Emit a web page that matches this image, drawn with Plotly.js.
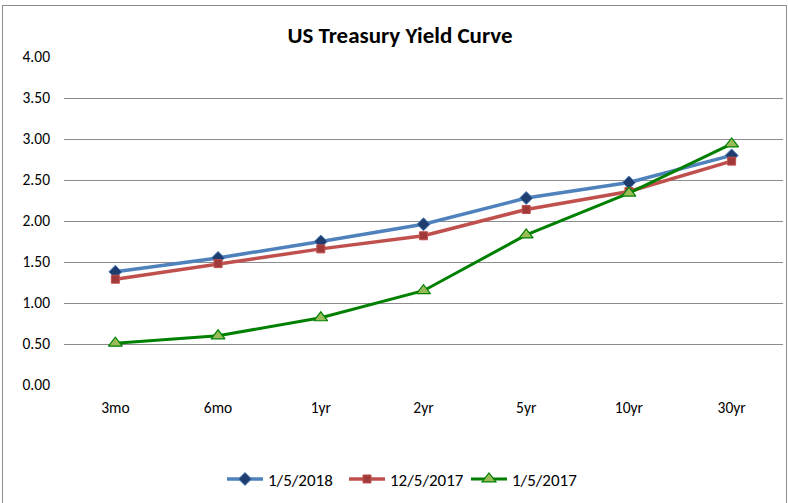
<!DOCTYPE html>
<html>
<head>
<meta charset="utf-8">
<script src="https://cdn.plot.ly/plotly-3.0.1.min.js"></script>
<style>
html,body{margin:0;padding:0;background:#fff;}
#wrap{position:relative;width:788px;height:503px;}
#chart{width:788px;height:503px;}
#border{position:absolute;left:2px;top:5px;width:783px;height:505px;border:1px solid #8c8c8c;pointer-events:none;}
</style>
</head>
<body>
<div id="wrap"><div id="chart"></div><div id="border"></div></div>
<script>
const categories = ["3mo","6mo","1yr","2yr","5yr","10yr","30yr"];
const seriesNames = ["1/5/2018","12/5/2017","1/5/2017"];
const yield_2018_01_05 = [1.38,1.55,1.75,1.96,2.28,2.47,2.80];
const yield_2017_12_05 = [1.29,1.48,1.66,1.82,2.14,2.36,2.73];
const yield_2017_01_05 = [0.51,0.60,0.82,1.15,1.83,2.34,2.94];
const yTickVals = [0,0.5,1,1.5,2,2.5,3,3.5,4];

const font = "Calibri, Carlito, 'Open Sans', 'Noto Sans', sans-serif";
const traces = [
  {x:categories, y:yield_2018_01_05, name:seriesNames[0], type:"scatter", mode:"lines+markers",
   line:{color:"#4F81BD",width:3.5}, marker:{symbol:"diamond",size:10,color:"#1F3D6E",line:{color:"#4F81BD",width:1}}},
  {x:categories, y:yield_2017_12_05, name:seriesNames[1], type:"scatter", mode:"lines+markers",
   line:{color:"#C0504D",width:3.5}, marker:{symbol:"square",size:8,color:"#A0393A",line:{color:"#C0504D",width:1}}},
  {x:categories, y:yield_2017_01_05, name:seriesNames[2], type:"scatter", mode:"lines+markers",
   line:{color:"#008000",width:3}, marker:{symbol:"triangle-up",size:12,color:"#9BBB59",line:{color:"#008000",width:1.2}}}
];
const layout = {
  width:788, height:503,
  margin:{l:64,r:5,t:57,b:116},
  paper_bgcolor:"#fff", plot_bgcolor:"#fff",
  title:{text:"<b>US Treasury Yield Curve</b>", font:{family:font,size:23,color:"#000"}, x:0.5076, xanchor:"center", xref:"container", y:1-35/503, yanchor:"middle", yref:"container", automargin:false},
  xaxis:{type:"category", range:[-0.5,6.5], automargin:false, showgrid:false, zeroline:false, showline:false, ticks:"", ticklabelstandoff:11, tickfont:{family:font,size:15.5,color:"#000"}},
  yaxis:{range:[0,4], automargin:false, tickvals:yTickVals, tickformat:".2f", showgrid:true, gridcolor:"#8c8c8c", gridwidth:1, zeroline:false, showline:false, ticks:"", ticklen:0, ticklabelstandoff:13, tickfont:{family:font,size:15.5,color:"#000"}},
  showlegend:true,
  legend:{orientation:"h", x:(222-64)/719, xanchor:"left", y:(387-482)/330, yanchor:"middle", font:{family:font,size:17,color:"#000"}, itemwidth:36, entrywidth:71, entrywidthmode:"pixels", traceorder:"normal"}
};
Plotly.newPlot("chart", traces, layout, {displayModeBar:false, staticPlot:true});
</script>
</body>
</html>
